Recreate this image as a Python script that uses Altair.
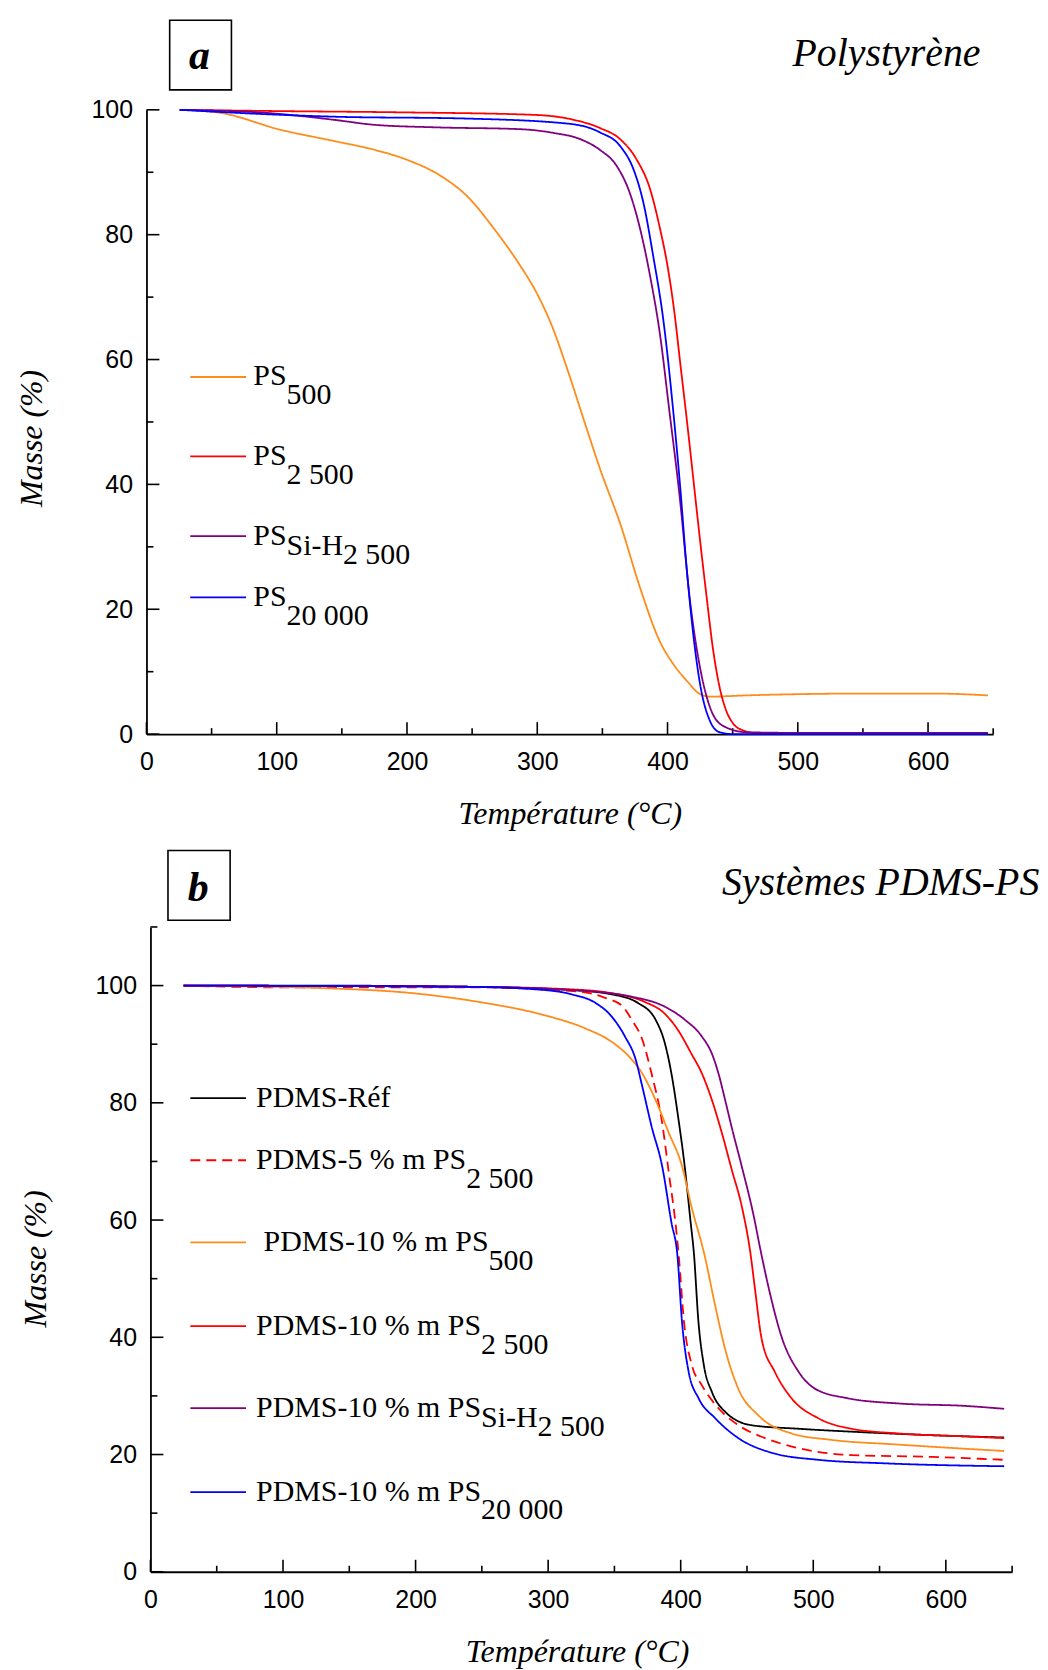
import altair as alt
import pandas as pd

# ---------------- Panel a : Polystyrène ----------------
a_series = ["PS500", "PS2500", "PSSiH2500", "PS20000"]
a_colors = ["#ff8c1a", "#ff0000", "#800080", "#0000ff"]

a_ps500_T = [25.5, 57, 103, 144, 175, 200, 226, 246, 267, 287, 300, 312, 323, 335.5, 348, 364, 379, 394, 404.5, 415, 425, 433, 460, 501, 550, 604, 646]
a_ps500_M = [100, 99.5, 96.8, 95.0, 93.6, 92.0, 89.4, 86.2, 80.9, 75.0, 70.5, 65.0, 58.5, 50.5, 42.6, 33.5, 23.4, 14.9, 11.2, 8.5, 6.4, 6.0, 6.2, 6.4, 6.5, 6.5, 6.2]

a_ps2500_T = [25.5, 100, 195, 297, 328, 348, 363.6, 376.4, 386.6, 394.3, 400, 405, 410, 415, 420, 425, 430, 435, 440, 445, 450, 458, 470, 500, 646]
a_ps2500_M = [100, 99.8, 99.6, 99.2, 98.4, 97.1, 95.3, 92.0, 87.3, 80.9, 75.0, 68.0, 59.0, 50.0, 40.5, 31.0, 22.0, 13.5, 7.5, 3.8, 1.8, 0.6, 0.1, 0.0, 0.0]

a_pssih_T = [25.5, 93, 144, 175, 221, 287, 312.5, 333, 348, 361, 371, 379, 386.6, 394.3, 401, 409.6, 417.3, 425, 432.6, 442.8, 460.7, 500, 646]
a_pssih_M = [100, 99.5, 98.4, 97.6, 97.2, 96.9, 96.3, 95.3, 93.6, 91.0, 86.7, 80.9, 73.4, 63.9, 52.5, 37.5, 21.3, 10.6, 4.3, 1.3, 0.3, 0.2, 0.2]

a_ps20000_T = [25.5, 103, 144, 246, 323, 348, 364, 374, 381.5, 389, 397, 404.5, 409.6, 414.7, 419.8, 425, 432.6, 440, 450, 646]
a_ps20000_M = [100, 99.2, 98.9, 98.6, 97.8, 96.4, 94.1, 90.4, 85.1, 76.6, 66.0, 51.5, 39.9, 26.6, 15.9, 8.0, 2.1, 0.3, 0.0, 0.0]

a_leg_M = [57.2, 44.5, 31.7, 21.9]
a_leg_text = ["PS", "PS", "PS", "PS"]
a_leg_sub = ["500", "2 500", "Si-H", "20 000"]
a_leg_sub2 = ["", "", "2 500", ""]

# ---------------- Panel b : Systèmes PDMS-PS ----------------
b_series = ["Ref", "PS5_2500", "PS10_500", "PS10_2500", "PS10_SiH", "PS10_20000"]
b_colors = ["#000000", "#ff0000", "#ff8c1a", "#ff0000", "#800080", "#0000ff"]
b_dashes = [[1, 0], [10, 6], [1, 0], [1, 0], [1, 0], [1, 0]]

b_ref_T = [25, 118, 238, 313, 348, 368, 381, 388, 393, 398, 403, 407.5, 409.9, 413.4, 417.5, 423.5, 433.5, 453.5, 488.6, 528.7, 589, 644]
b_ref_M = [100, 100, 99.8, 99.3, 98.5, 97.0, 94.2, 90.2, 85.0, 77.7, 69.2, 59.6, 54.5, 42.6, 35.2, 30.7, 27.3, 25.0, 24.4, 23.9, 23.3, 22.9]

b_ps5_T = [25, 100, 238, 323, 343, 356, 363, 371, 378, 386, 391, 396, 398.5, 402.5, 408.5, 416, 428.5, 443.5, 463.6, 488.6, 528.7, 589, 644]
b_ps5_M = [100, 99.7, 99.7, 99.0, 97.9, 96.5, 94.2, 90.8, 85.0, 76.6, 68.1, 59.6, 54.0, 42.6, 35.2, 31.8, 27.9, 25.0, 22.8, 21.1, 19.9, 19.6, 19.1]

b_ps500_T = [25, 138, 198, 248, 298, 328, 348, 361, 371, 381, 391, 401, 408, 418, 426, 433.5, 443.5, 458.5, 483.6, 513.7, 563.8, 644]
b_ps500_M = [100, 99.5, 98.7, 97.2, 94.9, 92.7, 90.4, 87.9, 85.0, 80.5, 74.9, 69.2, 62.4, 54.0, 45.4, 38.0, 31.2, 26.7, 23.6, 22.5, 21.7, 20.6]

b_ps2500_T = [25, 238, 313, 348, 373, 388, 398, 408, 416, 423.5, 431, 438.5, 446, 452.5, 456, 461, 471, 483.6, 503.7, 528.7, 563.8, 614, 644]
b_ps2500_M = [100, 99.8, 99.4, 98.7, 97.2, 95.2, 92.4, 88.4, 85.0, 80.5, 74.9, 68.6, 62.4, 54.5, 48.3, 39.8, 34.1, 29.6, 26.2, 24.4, 23.6, 23.1, 22.8]

b_pssih_T = [25, 238, 313, 363, 388, 403, 416, 423.5, 428.5, 433.5, 438.5, 446, 454.5, 461, 466.5, 476.5, 489, 501.5, 526, 565, 614, 644]
b_pssih_M = [100, 99.8, 99.3, 98.1, 96.4, 94.2, 91.3, 88.4, 85.0, 80.5, 75.8, 69.2, 61.3, 54.0, 48.3, 39.8, 34.1, 31.2, 29.6, 28.7, 28.3, 27.8]

b_ps20000_T = [25, 238, 288, 318, 336, 348, 358, 366, 371, 378, 386, 393, 397.5, 401, 406, 413.5, 426, 443.5, 468.6, 503.7, 553.8, 644]
b_ps20000_M = [100, 99.8, 99.4, 98.5, 97.0, 94.7, 91.3, 87.4, 82.8, 76.0, 69.2, 59.6, 54.0, 42.6, 34.1, 29.6, 26.2, 22.8, 20.3, 19.1, 18.5, 18.0]

b_leg_M = [80.8, 70.2, 56.2, 41.9, 27.9, 13.6]
b_leg_text = ["PDMS-Réf", "PDMS-5 % m PS", " PDMS-10 % m PS", "PDMS-10 % m PS", "PDMS-10 % m PS", "PDMS-10 % m PS"]
b_leg_sub = ["", "2 500", "500", "2 500", "Si-H", "20 000"]
b_leg_sub2 = ["", "", "", "", "2 500", ""]

x_major = [0, 100, 200, 300, 400, 500, 600]
x_minor = [50, 150, 250, 350, 450, 550, 650]
y_major = [0, 20, 40, 60, 80, 100]
a_y_minor = [10, 30, 50, 70, 90]
b_y_minor = [10, 30, 50, 70, 90, 110]

# ---------------- helpers ----------------
W_TIMES = {'P': 556, 'S': 556, 'D': 722, 'M': 889, 'R': 667, 'é': 444, 'f': 333, '-': 333,
           ' ': 250, '%': 833, 'm': 778, 'i': 278, 'H': 722}
LEG_SIZE = 30


def tw(s):
    return sum(W_TIMES.get(c, 500) for c in s) * LEG_SIZE / 1000.0


def lines_df(series, Ts, Ms):
    rows = []
    for s, T, M in zip(series, Ts, Ms):
        for t, m in zip(T, M):
            rows.append({"series": s, "T": t, "M": m})
    return pd.DataFrame(rows)


def legend_text_df(T0, pxT, Ms, texts, subs, subs2):
    rows = []
    for M, txt, sub, sub2 in zip(Ms, texts, subs, subs2):
        lead = tw(txt[: len(txt) - len(txt.lstrip())])
        main = txt.lstrip()
        x0 = T0 + lead / pxT
        rows.append({"T": x0, "M": M, "label": main, "role": "main"})
        xs = x0 + tw(main) / pxT
        if sub2:
            rows.append({"T": xs, "M": M, "label": sub, "role": "sih"})
            rows.append({"T": xs + tw(sub) / pxT, "M": M, "label": sub2, "role": "sub2"})
        elif sub:
            rows.append({"T": xs, "M": M, "label": sub, "role": "sub"})
    return pd.DataFrame(rows)


def build_panel(df, series, colors, dashes, W, H, xs, ys, y_minor, y_axis_x0, leg_T1, leg_T2,
                leg_Ms, txt_df, title_text, title_xy, box, letter_xy, letter, ytitle_dy,
                xtitle_x, anchor=False):
    color_enc = alt.Color("series:N", scale=alt.Scale(domain=series, range=colors), legend=None)
    dash_enc = alt.StrokeDash("series:N", scale=alt.Scale(domain=series, range=dashes), legend=None)

    x_axis = alt.Axis(values=x_major, title="Température (°C)", grid=False, ticks=False, tickSize=0,
                      labelFont="Liberation Sans", labelFontSize=25, labelColor="black",
                      labelPadding=16, labelFlush=False, labelOverlap=False,
                      domainColor="black", domainWidth=1.8,
                      titleFont="Liberation Serif", titleFontStyle="italic", titleFontWeight="normal",
                      titleFontSize=32, titleColor="black", titleX=xtitle_x, titleY=89.6,
                      titleBaseline="alphabetic", titleAlign="center")
    y_axis = alt.Axis(values=y_major, title="Masse (%)", grid=False, ticks=False, tickSize=0,
                      labelFont="Liberation Sans", labelFontSize=25, labelColor="black",
                      labelPadding=14, labelFlush=False, labelOverlap=False, offset=-y_axis_x0,
                      domainColor="black", domainWidth=1.8,
                      titleFont="Liberation Serif", titleFontStyle="italic", titleFontWeight="normal",
                      titleFontSize=32, titleColor="black", titleX=-105.7, titleY=H / 2 + ytitle_dy,
                      titleAngle=270, titleBaseline="alphabetic", titleAlign="center")

    lines = alt.Chart(df).mark_line(strokeWidth=1.8, interpolate="monotone").encode(
        x=alt.X("T:Q", scale=xs, axis=x_axis),
        y=alt.Y("M:Q", scale=ys, axis=y_axis),
        color=color_enc, strokeDash=dash_enc,
    )

    xmaj = alt.Chart(pd.DataFrame({"T": x_major})).mark_rule(color="black", strokeWidth=1.6).encode(
        x=alt.X("T:Q", scale=xs), y=alt.value(H), y2=alt.value(H - 12))
    xmin = alt.Chart(pd.DataFrame({"T": x_minor})).mark_rule(color="black", strokeWidth=1.6).encode(
        x=alt.X("T:Q", scale=xs), y=alt.value(H), y2=alt.value(H - 6))
    ymaj = alt.Chart(pd.DataFrame({"M": y_major})).mark_rule(color="black", strokeWidth=1.6).encode(
        y=alt.Y("M:Q", scale=ys), x=alt.value(y_axis_x0), x2=alt.value(y_axis_x0 + 13))
    ymin = alt.Chart(pd.DataFrame({"M": y_minor})).mark_rule(color="black", strokeWidth=1.6).encode(
        y=alt.Y("M:Q", scale=ys), x=alt.value(y_axis_x0), x2=alt.value(y_axis_x0 + 7))

    leg_df = pd.DataFrame({"series": series, "T": [leg_T1] * len(series), "T2": [leg_T2] * len(series), "M": leg_Ms})
    leg_lines = alt.Chart(leg_df).mark_rule(strokeWidth=1.8).encode(
        x=alt.X("T:Q", scale=xs), x2="T2:Q", y=alt.Y("M:Q", scale=ys),
        color=color_enc, strokeDash=dash_enc)

    def tlayer(role, dy):
        return alt.Chart(txt_df).transform_filter(alt.datum.role == role).mark_text(
            font="Liberation Serif", fontSize=LEG_SIZE, color="black", align="left",
            baseline="alphabetic", dy=dy).encode(
            x=alt.X("T:Q", scale=xs), y=alt.Y("M:Q", scale=ys), text="label:N")

    texts = [tlayer("main", 8.5), tlayer("sub", 27.5), tlayer("sih", 18.5), tlayer("sub2", 28)]

    one = pd.DataFrame({"k": [0]})
    title = alt.Chart(one).mark_text(text=title_text, font="Liberation Serif", fontStyle="italic",
                                     fontSize=40, color="black", align="right", baseline="alphabetic").encode(
        x=alt.value(title_xy[0]), y=alt.value(title_xy[1]))
    boxm = alt.Chart(one).mark_rect(filled=False, color="black", strokeWidth=1.6).encode(
        x=alt.value(box[0]), x2=alt.value(box[1]), y=alt.value(box[2]), y2=alt.value(box[3]))
    let = alt.Chart(one).mark_text(text=letter, font="Liberation Serif", fontStyle="italic", fontWeight="bold",
                                   fontSize=42, color="black", align="center", baseline="alphabetic").encode(
        x=alt.value(letter_xy[0]), y=alt.value(letter_xy[1]))

    layers = [xmaj, xmin, ymaj, ymin, lines, leg_lines] + texts + [title, boxm, let]
    if anchor:
        anc = alt.Chart(one).mark_rule(opacity=0, strokeWidth=1).encode(
            x=alt.value(-138.7), x2=alt.value(-137.7), y=alt.value(-98.7), y2=alt.value(-98.7))
        layers.append(anc)
    return alt.layer(*layers).properties(width=W, height=H)


# panel a
Wa, Ha = 850, 626.7
xs_a = alt.Scale(domain=[0, 650], nice=False, zero=False)
ys_a = alt.Scale(domain=[0, 100], nice=False, zero=False)
pxT_a = Wa / 650.0
df_a = lines_df(a_series, [a_ps500_T, a_ps2500_T, a_pssih_T, a_ps20000_T],
                [a_ps500_M, a_ps2500_M, a_pssih_M, a_ps20000_M])
txt_a = legend_text_df(82.0, pxT_a, a_leg_M, a_leg_text, a_leg_sub, a_leg_sub2)
panel_a = build_panel(df_a, a_series, a_colors, [[1, 0]] * 4, Wa, Ha, xs_a, ys_a, a_y_minor, 0,
                      33.6, 76.5, a_leg_M, txt_a, "Polystyrène", (837.3, -43.7),
                      (23.3, 85.3, -90, -20), (53.3, -40.7), "a", 16, Wa / 2, anchor=True)

# panel b
Wb, Hb = 869, 647.3
xs_b = alt.Scale(domain=[0, 650], range=[4, 869], nice=False, zero=False)
ys_b = alt.Scale(domain=[0, 110], nice=False, zero=False)
pxT_b = 865 / 650.0
df_b = lines_df(b_series, [b_ref_T, b_ps5_T, b_ps500_T, b_ps2500_T, b_pssih_T, b_ps20000_T],
                [b_ref_M, b_ps5_M, b_ps500_M, b_ps2500_M, b_pssih_M, b_ps20000_M])
txt_b = legend_text_df(79.7, pxT_b, b_leg_M, b_leg_text, b_leg_sub, b_leg_sub2)
panel_b = build_panel(df_b, b_series, b_colors, b_dashes, Wb, Hb, xs_b, ys_b, b_y_minor, 4,
                      30.1, 72.1, b_leg_M, txt_b, "Systèmes PDMS-PS", (896.3, -31.7),
                      (21.6, 84.0, -76.7, -6.7), (51.9, -25.7), "b", 9, 436.3 - 4)

chart = alt.vconcat(panel_a, panel_b, spacing=193.3, bounds="flush").resolve_scale(
    color="independent", strokeDash="independent").properties(
    padding=0, background="white").configure_view(stroke=None)

chart.save("out.html", embed_options={"renderer": "svg", "actions": False})
